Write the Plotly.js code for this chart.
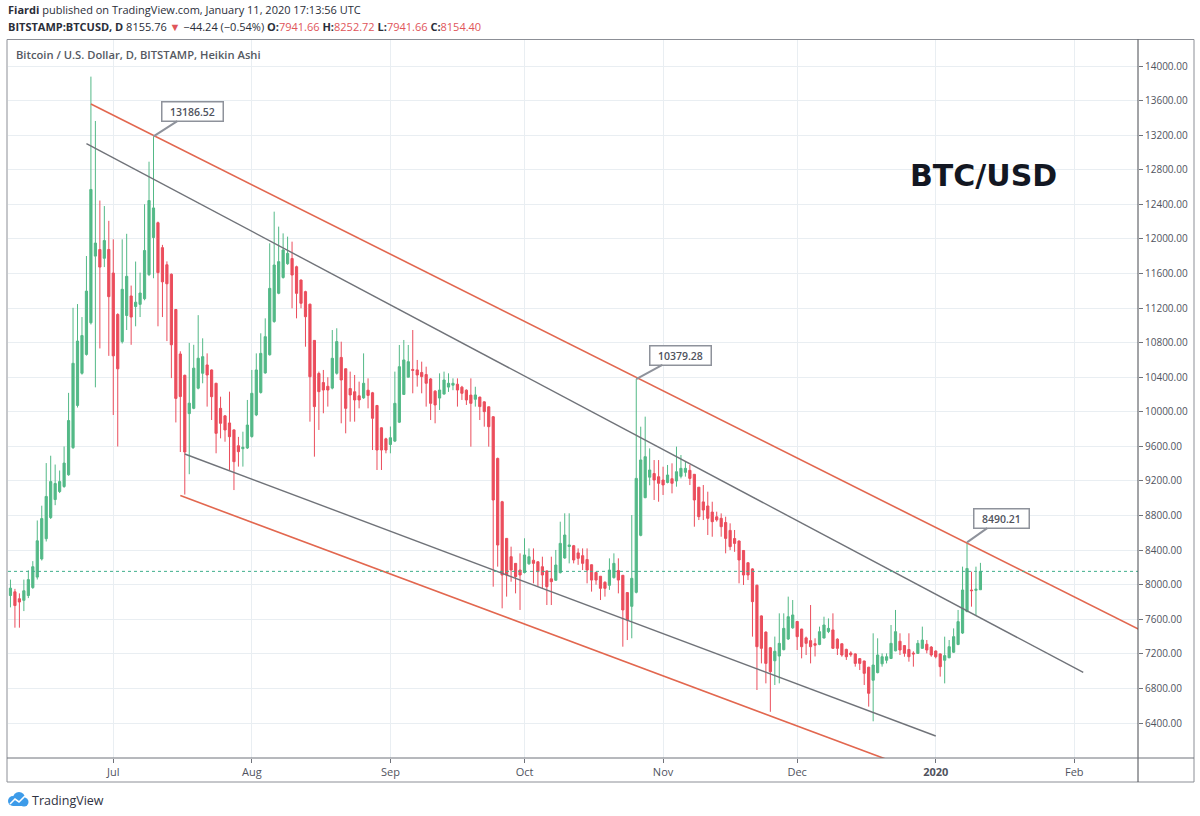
<!DOCTYPE html>
<html>
<head>
<meta charset="utf-8">
<script src="https://cdn.plot.ly/plotly-3.0.1.min.js"></script>
<style>
html,body{margin:0;padding:0;background:#fff;}
#chart{width:1200px;height:816px;}
</style>
</head>
<body>
<div id="chart"></div>
<script>
// ---------------- DATA (Heikin Ashi daily candles, BITSTAMP BTCUSD) ----------------
const FIRST_DAY = '2019-06-08';   // first candle; one candle per calendar day
const OPEN = [
  // Jun 8-30
  7875,7918,7838,7819,7875,7967,8088,8298,8532,8777,8985,9078,9136,9272,9586,10074,10446,10664,11030,11801,11877,11776,11878,
  // Jul
  11605,11126,10812,11114,11340,11218,11243,11308,11587,12016,12187,11899,11701,11591,11183,10669,10422,9979,10040,10273,10446,10542,10484,10330,10040,9953,9871,9791,9607,9573,9581,
  // Aug
  9714,9964,10224,10450,10660,11044,11371,11554,11713,11773,11678,11524,11390,11245,10826,10443,10338,10295,10274,10446,10629,10498,10269,10232,10185,10161,10250,10220,10073,9815,9687,
  // Sep
  9622,9661,9880,10201,10400,10490,10485,10455,10431,10380,10239,10159,10205,10286,10308,10319,10285,10250,10193,10145,10170,10115,10058,9943,9461,8960,8536,8324,8247,8170,
  // Oct
  8141,8242,8283,8265,8208,8160,8068,8052,8140,8309,8442,8451,8368,8336,8292,8231,8142,8098,8028,7993,8082,8164,8109,7909,7750,7912,8571,9007,9244,9286,9249,
  // Nov
  9211,9183,9226,9200,9254,9300,9323,9277,9128,8958,8911,8840,8785,8768,8720,8628,8534,8506,8396,8254,8183,7994,7639,7452,7271,7120,7175,7249,7372,7501,
  // Dec
  7575,7487,7385,7353,7318,7309,7383,7458,7477,7370,7317,7252,7210,7200,7145,7118,7046,6895,6983,7085,7126,7147,7235,7346,7296,7251,7209,7205,7264,7312,7279,
  // Jan 1-11
  7233,7200,7126,7155,7219,7309,7441,7690,7939,7935,7941.66
];
const HIGH = [
  8059,7952,7900,8059,8166,8273,8743,8914,9407,9492,9390,9321,9599,10219,11203,11246,11096,11802,13877,13364,12444,12380,12209,
  11995,11140,11995,12059,11460,11738,11610,12401,12893,13186.52,12200,11931,11740,11600,11190,10700,10430,10797,10775,11118,10850,10676,10490,10335,10175,9960,10233,9795,9710,9770,10137,
  10484,10676,10908,11081,11949,12315,12142,12064,12026,11968,11690,11530,11400,11250,10830,10465,10484,10400,10946,10966,10811,10500,10465,10426,10349,10676,10387,10230,10080,9820,9700,
  9830,10465,10773,10831,10773,10946,10600,10580,10522,10390,10250,10445,10465,10445,10387,10387,10300,10260,10387,10290,10175,10120,10060,9950,9470,8970,8540,8440,8250,8363,
  8537,8420,8420,8270,8324,8165,8324,8402,8729,8826,8826,8460,8420,8420,8420,8235,8150,8100,8040,8305,8363,8305,8110,7910,8806,10379.28,9828,9944,9577,9442,9442,
  9365,9385,9404,9597,9500,9423,9385,9280,9130,9153,9076,8960,8845,8825,8787,8710,8633,8510,8400,8260,8190,8000,7645,7460,7280,7400,7669,7669,7862,7823,
  7580,7490,7400,7765,7380,7515,7630,7610,7669,7380,7320,7260,7230,7205,7150,7120,7050,7438,7380,7206,7206,7534,7708,7438,7300,7438,7230,7360,7515,7360,7290,
  7240,7205,7399,7360,7495,7708,8209,8490.21,8151,8209,8252.72
];
const LOW = [
  7738,7503,7503,7695,7845,7952,8060,8280,8500,8760,8920,9060,9120,9260,9570,10050,10430,10650,11010,10283,10733,11674,10647,
  9963,9599,10790,10946,10775,10989,11096,11290,11570,11545,10989,11096,10818,10390,9877,9535,9043,9278,10030,10260,10330,10060,9905,9520,9693,9654,9327,9095,9366,9366,9570,
  9700,9950,10210,10440,10650,11030,11360,11540,11700,11197,11081,11197,10753,9886,9481,9790,9983,10060,10260,10430,9867,9751,9886,9886,10040,10150,10040,9558,9327,9327,9520,
  9520,9650,9870,10195,10400,10214,10291,10214,10060,9905,9867,10021,10200,10230,10250,10060,10137,10079,9597,10060,9905,9828,9597,7977,8209,7727,7862,8035,7900,7708,
  8130,8230,8016,7977,7958,7765,7765,8045,8130,8300,8247,8247,8230,8170,8016,7920,8000,7823,7862,7940,8070,7900,7283,7360,7380,7900,8560,9000,9150,8980,8960,
  9038,9172,9057,9134,9230,9250,9153,8671,8748,8748,8575,8555,8730,8555,8363,8400,8380,8016,7997,8054,7399,6782,7090,6859,6530,6840,6859,7240,7360,7490,
  7245,7148,7187,7090,7170,7300,7380,7440,7260,7187,7167,7130,7167,7052,7013,6840,6590,6420,6975,7052,7090,7140,7230,7187,7167,7110,7052,7200,7260,7206,7167,
  7148,6937,6859,7150,7210,7300,7430,7680,7746,7650,7941.66
];
const CLOSE = [
  7960,7759,7800,7930,8059,8208,8508,8765,9021,9193,9171,9193,9407,9899,10561,10818,10882,11396,12572,11952,11674,11981,11332,
  10647,10497,11417,11567,11096,11268,11374,11866,12444,12358,11610,11503,11481,10775,10155,10176,9535,10100,10505,10620,10638,10426,10175,9751,9867,9790,9712,9423,9539,9590,9847,
  10214,10484,10676,10869,11428,11698,11737,11872,11833,11582,11370,11255,11100,10406,10060,10233,10252,10252,10619,10812,10368,10040,10195,10137,10137,10330,10190,9925,9558,9558,9558,
  9700,10098,10522,10600,10580,10480,10426,10407,10330,10098,10079,10252,10368,10330,10330,10252,10214,10137,10098,10195,10060,10002,9828,8980,8459,8112,8112,8170,8093,8112,
  8344,8324,8247,8151,8112,7977,8035,8228,8478,8575,8460,8286,8305,8247,8170,8054,8054,7958,7958,8170,8247,8054,7708,7592,8074,9230,9443,9481,9327,9211,9173,
  9154,9269,9173,9307,9346,9346,9230,8980,8787,8864,8768,8729,8750,8671,8536,8440,8478,8286,8112,8112,7804,7283,7264,7090,6994,7230,7322,7495,7630,7650,
  7399,7283,7322,7283,7300,7457,7534,7495,7264,7264,7187,7167,7190,7090,7090,6975,6744,7071,7187,7167,7167,7322,7457,7245,7206,7167,7200,7322,7360,7245,7187,
  7167,7052,7180,7283,7399,7573,7939,8188,7931,7948,8154.40
];
const LAST_PRICE = 8154.40;

// trend lines [start, end]
const RED_UPPER_X = ['2019-06-26', '2020-02-16'];  const RED_UPPER_Y = [13560, 7470];
const GRAY_UPPER_X = ['2019-06-25', '2020-02-03']; const GRAY_UPPER_Y = [13102, 6985];
const GRAY_LOWER_X = ['2019-07-17', '2020-01-01']; const GRAY_LOWER_Y = [9512, 6250];
const RED_LOWER_X = ['2019-07-16', '2019-12-25'];  const RED_LOWER_Y = [9031, 5903];

// price callouts
const CALLOUT_X = ['2019-07-10', '2019-10-26', '2020-01-08'];
const CALLOUT_Y = [13186.52, 10379.28, 8490.21];

// axis ticks
const X_TICKS = ['2019-07-01','2019-08-01','2019-09-01','2019-10-01','2019-11-01','2019-12-01','2020-01-01','2020-02-01'];
const X_LABELS = ['Jul','Aug','Sep','Oct','Nov','Dec','<b>2020</b>','Feb'];
const Y_TICKS = [6400,6800,7200,7600,8000,8400,8800,9200,9600,10000,10400,10800,11200,11600,12000,12400,12800,13200,13600,14000];

// ---------------- build ----------------
const DATES = [];
{
  const d0 = new Date(FIRST_DAY + 'T00:00:00Z');
  for (let i = 0; i < CLOSE.length; i++) {
    const d = new Date(d0.getTime() + i * 86400000);
    DATES.push(d.toISOString().slice(0, 10));
  }
}

const W = 1200, H = 816, ML = 8, MR = 62, MT = 40, MB = 58;
const PW = W - ML - MR, PH = H - MT - MB;
const px = v => (v - ML) / PW;
const py = v => (H - MB - v) / PH;

const GREEN = '#53b987', RED = '#eb4d5c';
const TREND_RED = '#e2674f', TREND_GRAY = '#707379';

const traces = [
  {
    type: 'candlestick', x: DATES, open: OPEN, high: HIGH, low: LOW, close: CLOSE,
    increasing: {line: {color: GREEN, width: 1}, fillcolor: GREEN},
    decreasing: {line: {color: RED, width: 1}, fillcolor: RED},
    whiskerwidth: 0, hoverinfo: 'skip', showlegend: false
  },
  {type:'scatter', mode:'lines', x: RED_UPPER_X, y: RED_UPPER_Y, line:{color:TREND_RED, width:1.6}, hoverinfo:'skip', showlegend:false},
  {type:'scatter', mode:'lines', x: GRAY_UPPER_X, y: GRAY_UPPER_Y, line:{color:TREND_GRAY, width:1.4}, hoverinfo:'skip', showlegend:false},
  {type:'scatter', mode:'lines', x: GRAY_LOWER_X, y: GRAY_LOWER_Y, line:{color:TREND_GRAY, width:1.4}, hoverinfo:'skip', showlegend:false},
  {type:'scatter', mode:'lines', x: RED_LOWER_X, y: RED_LOWER_Y, line:{color:TREND_RED, width:1.6}, hoverinfo:'skip', showlegend:false}
];

const calloutOffsets = [[39, -25], [44, -24], [34, -24]];
const annotations = CALLOUT_X.map((x, i) => ({
  x: x, y: CALLOUT_Y[i], xref: 'x', yref: 'y',
  text: '\u00a0\u00a0' + CALLOUT_Y[i].toFixed(2) + '\u00a0\u00a0',
  showarrow: true, arrowhead: 0, arrowwidth: 2, arrowcolor: '#8e929b', standoff: 0,
  ax: calloutOffsets[i][0], ay: calloutOffsets[i][1],
  bgcolor: '#ffffff', bordercolor: '#8e929b', borderwidth: 1.5, borderpad: 2,
  font: {family: 'Open Sans', size: 10.5, color: '#50535e', weight: 600}
}));

const RED_TXT = '#e0555a';
annotations.push(
  {xref:'paper', yref:'paper', x: px(6), y: py(10), xanchor:'left', yanchor:'middle', showarrow:false,
   text:'<b>Fiardi</b> published on TradingView.com, January 11, 2020 17:13:56 UTC',
   font:{family:'Open Sans', size:11, color:'#2a2e39'}},
  {xref:'paper', yref:'paper', x: px(6), y: py(26), xanchor:'left', yanchor:'middle', showarrow:false,
   text:'<b>BITSTAMP:BTCUSD, D</b> 8155.76 <span style="color:' + RED_TXT + '">▼</span> −44.24 (−0.54%) ' +
        '<b>O:</b><span style="color:' + RED_TXT + '">7941.66</span> <b>H:</b><span style="color:' + RED_TXT + '">8252.72</span> ' +
        '<b>L:</b><span style="color:' + RED_TXT + '">7941.66</span> <b>C:</b><span style="color:' + RED_TXT + '">8154.40</span>',
   font:{family:'Open Sans', size:11, color:'#2a2e39'}},
  {xref:'paper', yref:'paper', x: px(14), y: py(54), xanchor:'left', yanchor:'middle', showarrow:false,
   text:'Bitcoin / U.S. Dollar, D, BITSTAMP, Heikin Ashi',
   font:{family:'Open Sans', size:11.2, color:'#555962', weight:600}},
  {xref:'paper', yref:'paper', x: px(983), y: py(175), xanchor:'center', yanchor:'middle', showarrow:false,
   text:'<b>BTC/USD</b>',
   font:{family:'DejaVu Sans', size:30, color:'#131722'}},
  {xref:'paper', yref:'paper', x: px(30), y: py(800), xanchor:'left', yanchor:'middle', showarrow:false,
   text:'TradingView',
   font:{family:'Open Sans', size:12.5, color:'#2f3241'}}
);

const BLUE = '#3d9be9';
const shapes = [
  // price line
  {type:'line', xref:'paper', yref:'y', x0:0, x1:1, y0:LAST_PRICE, y1:LAST_PRICE,
   line:{color:'#3fae8c', width:1, dash:'dot'}},
  // outer frame
  {type:'rect', xref:'paper', yref:'paper', x0:px(7), x1:px(1194), y0:py(782), y1:py(39.5),
   line:{color:'#8c8f96', width:1}},
  // axis dividers
  {type:'line', xref:'paper', yref:'paper', x0:px(1138), x1:px(1138), y0:py(782), y1:py(39.5),
   line:{color:'#46484f', width:1}},
  {type:'line', xref:'paper', yref:'paper', x0:px(7), x1:px(1194), y0:py(758), y1:py(758),
   line:{color:'#6f727a', width:1}},
  // TradingView cloud logo
  {type:'circle', xref:'paper', yref:'paper', xsizemode:'pixel', ysizemode:'pixel',
   xanchor:px(13), yanchor:py(801), x0:-5, x1:5, y0:-5, y1:5, fillcolor:BLUE, line:{width:0}},
  {type:'circle', xref:'paper', yref:'paper', xsizemode:'pixel', ysizemode:'pixel',
   xanchor:px(19), yanchor:py(798), x0:-6, x1:6, y0:-6, y1:6, fillcolor:BLUE, line:{width:0}},
  {type:'circle', xref:'paper', yref:'paper', xsizemode:'pixel', ysizemode:'pixel',
   xanchor:px(24), yanchor:py(802), x0:-4.5, x1:4.5, y0:-4.5, y1:4.5, fillcolor:BLUE, line:{width:0}},
  {type:'rect', xref:'paper', yref:'paper', x0:px(13), x1:px(24), y0:py(806), y1:py(800),
   fillcolor:BLUE, line:{width:0}},
  {type:'path', xref:'paper', yref:'paper',
   path:'M' + px(10) + ',' + py(804) + ' L' + px(15) + ',' + py(799) + ' L' + px(19) + ',' + py(802) + ' L' + px(25) + ',' + py(796),
   line:{color:'#ffffff', width:1.6}}
];

const layout = {
  width: W, height: H,
  margin: {l: ML, r: MR, t: MT, b: MB, pad: 0},
  paper_bgcolor: '#ffffff', plot_bgcolor: '#ffffff',
  showlegend: false, dragmode: false, hovermode: false,
  font: {family: 'Open Sans', size: 11, color: '#4a4d55'},
  xaxis: {
    type: 'date', range: ['2019-06-07 10:48', '2020-02-15 06:00'],
    rangeslider: {visible: false},
    tickmode: 'array', tickvals: X_TICKS, ticktext: X_LABELS,
    ticks: 'outside', ticklen: 4, tickcolor: '#6f727a', tickwidth: 1,
    tickfont: {family: 'Open Sans', size: 11, color: '#50535e'},
    showgrid: true, gridcolor: '#e9eef2', gridwidth: 1,
    zeroline: false, showline: false, fixedrange: true
  },
  yaxis: {
    side: 'right', range: [5995.6, 14300.7],
    tickmode: 'array', tickvals: Y_TICKS, ticktext: Y_TICKS.map(v => v.toFixed(2)),
    ticks: 'outside', ticklen: 4, tickcolor: '#6f727a', tickwidth: 1,
    tickfont: {family: 'Open Sans', size: 10, color: '#50535e'},
    showgrid: true, gridcolor: '#e9eef2', gridwidth: 1,
    zeroline: false, showline: false, fixedrange: true
  },
  shapes: shapes,
  annotations: annotations
};

Plotly.newPlot('chart', traces, layout, {staticPlot: true, displayModeBar: false});
</script>
</body>
</html>
